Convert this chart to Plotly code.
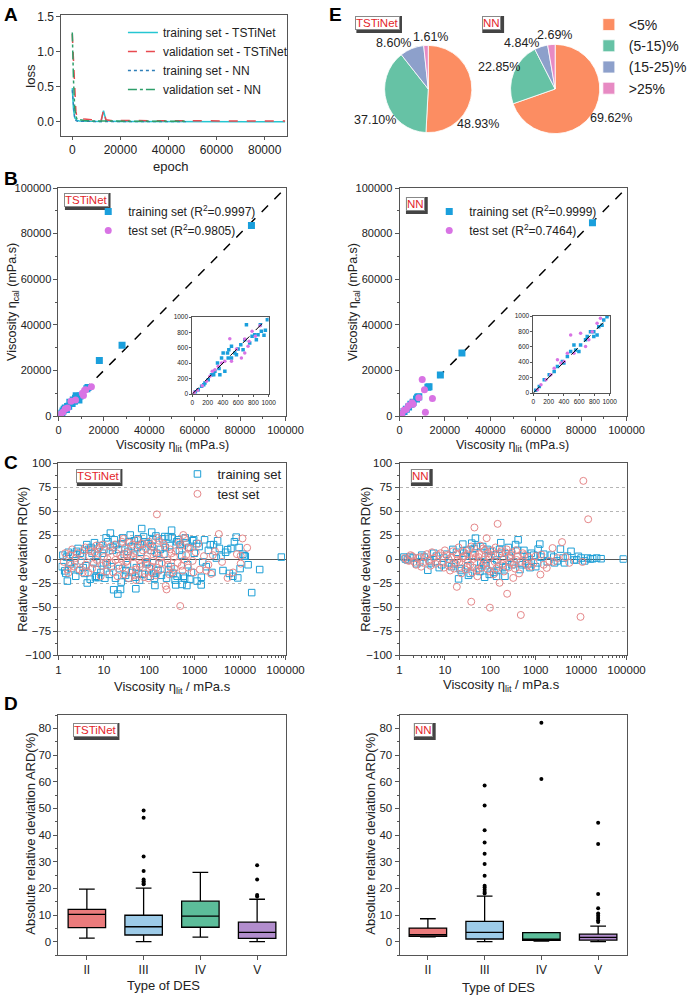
import plotly.graph_objects as go

# ---------------- DATA ----------------
# Panel A: loss curves
A_EPOCH_TST = [0, 200, 500, 1000, 1500, 2000, 3000, 5000, 8000, 12000, 13000, 14000, 16000, 20000, 25000, 30000, 34500, 40000, 50000, 57000, 60000, 70000, 80000, 88500]
A_TRAIN_TST = [0.48, 0.30, 0.18, 0.06, 0.03, 0.02, 0.015, 0.01, 0.008, 0.006, 0.16, 0.02, 0.008, 0.006, 0.005, 0.004, 0.004, 0.003, 0.003, 0.003, 0.003, 0.002, 0.002, 0.002]
A_VAL_TST = [1.25, 1.10, 0.80, 0.40, 0.15, 0.06, 0.05, 0.04, 0.03, 0.02, 0.17, 0.03, 0.02, 0.02, 0.015, 0.012, 0.02, 0.012, 0.012, 0.02, 0.012, 0.012, 0.012, 0.012]
A_EPOCH_NN = [0, 200, 500, 1000, 1500, 2000, 3000, 5000, 8000, 12000, 16000, 20000, 25000, 30000, 35000, 40000, 45000, 48000]
A_TRAIN_NN = [0.45, 0.35, 0.20, 0.05, 0.02, 0.01, 0.008, 0.006, 0.005, 0.004, 0.004, 0.003, 0.003, 0.003, 0.003, 0.003, 0.003, 0.003]
A_VAL_NN = [1.27, 0.95, 0.60, 0.20, 0.08, 0.04, 0.03, 0.02, 0.015, 0.012, 0.01, 0.01, 0.008, 0.008, 0.008, 0.008, 0.008, 0.008]
A_NAMES = ["training set - TSTiNet", "validation set - TSTiNet", "training set - NN", "validation set - NN"]

# Panel B: calculated vs literature viscosity (main)
B_TST_TRAIN_LIT = [85000, 28000, 18000, 13000, 12500, 9000, 8500, 8000, 7500, 7000, 6500, 6000, 5000, 4500, 4000, 3500, 3000, 2500, 2000, 1500, 1000, 500, 9500, 7800]
B_TST_TRAIN_CAL = [83500, 31000, 24300, 12500, 12000, 7000, 8500, 8200, 7800, 6500, 7000, 5500, 6000, 4300, 4200, 2800, 3500, 3000, 2200, 1300, 1100, 450, 8800, 8900]
B_TST_TEST_LIT = [14500, 11000, 11500, 10500, 5500, 4000, 3000, 2000, 1000, 500, 7500, 12000]
B_TST_TEST_CAL = [12800, 9000, 11300, 10000, 6500, 3500, 3200, 1800, 900, 600, 7000, 11500]
B_NN_TRAIN_LIT = [85000, 27500, 18000, 13000, 12500, 8500, 8000, 7500, 6000, 5000, 4000, 3000, 2000, 1000, 500]
B_NN_TRAIN_CAL = [84800, 27600, 18000, 12800, 12600, 8400, 8200, 7500, 6000, 5100, 4000, 3000, 2000, 1000, 500]
B_NN_TEST_LIT = [10000, 11000, 11400, 14500, 6000, 4000, 3000, 2000, 1000, 500, 8500, 5500]
B_NN_TEST_CAL = [16000, 11500, 1600, 7700, 5200, 4500, 3000, 2500, 900, 600, 8000, 5800]
B_TST_R2 = ["0.9997", "0.9805"]
B_NN_R2 = ["0.9999", "0.7464"]

# Panel B insets (0-1000 range)
BI_TST_TRAIN = [(709, 900), (891, 900), (957, 827), (983, 965), (939, 762), (817, 770), (783, 749), (687, 706), (635, 641),
                (600, 584), (513, 619), (478, 576), (461, 532), (404, 532), (383, 468), (513, 468), (557, 532), (330, 403),
                (296, 294), (252, 251), (209, 186), (165, 143), (122, 100), (78, 56), (361, 251), (426, 294), (470, 468),
                (578, 511), (665, 576), (752, 662), (839, 706), (904, 814), (861, 771), (40, 30), (150, 120), (280, 250), (350, 330)]
BI_TST_TEST = [(491, 719), (687, 714), (743, 684), (826, 749), (783, 814), (887, 887), (687, 532), (643, 468), (513, 424),
               (426, 424), (339, 359), (296, 316), (230, 229), (187, 165), (130, 108), (70, 48), (26, 22), (261, 294),
               (383, 403), (578, 584), (730, 619)]
BI_NN_TRAIN = [(965, 991), (922, 948), (857, 862), (835, 754), (792, 733), (749, 797), (684, 690), (619, 625), (554, 560),
               (489, 539), (446, 474), (381, 409), (316, 345), (273, 280), (208, 237), (143, 172), (78, 86), (532, 625),
               (597, 539), (706, 733), (792, 797), (30, 35), (400, 390), (900, 880)]
BI_NN_TEST = [(619, 776), (489, 754), (879, 970), (835, 905), (771, 797), (727, 690), (684, 603), (532, 517), (446, 517),
              (359, 388), (273, 323), (229, 237), (165, 172), (100, 108), (56, 43), (316, 431), (403, 409)]

# Panel C: relative deviation vs literature viscosity
C_TST_TRAIN = [(1.37, -12.4), (1.57, -23), (4.3, -25), (6.5, -19.3), (7.7, -19.3), (13.9, 27), (11.2, 22), (16.4, -32),
               (20.3, -36.5), (23.3, -31.7), (50.5, -31), (68, 31.7), (113, 28), (133, -27.6), (382, -27), (527, -26.5),
               (672, -27.6), (1130, -23), (1390, -27), (1650, 20), (2200, 14.8), (3500, 11), (5300, 9.7), (6300, 11),
               (8200, 22.8), (6900, -18), (8900, -19.7), (18000, -35), (27000, -11), (81000, 2), (12400, 3.4), (13000, 2.8),
               (3800, 2.8), (3000, 1), (220, 23.4), (430, 20), (310, 30), (260, 23),
               (1.2, -8), (1.5, 2), (1.8, -5), (2.1, 5), (2.5, 8), (2.9, -12), (3.3, 3), (3.8, -15), (4.6, 10), (5.2, 12),
               (5.9, -3), (6.8, -18), (8.1, 14), (9.3, 6), (10.5, -20), (12.2, 18), (14.5, -8), (17, 20), (19, 15),
               (22, -10), (26, 22), (30, -17), (34, 8), (38, 25), (42, -14), (47, 19), (55, 12), (61, -22), (75, 23),
               (84, -5), (95, 16), (105, -18), (120, 20), (140, 24), (155, -12), (175, 10), (195, 21), (240, -20),
               (280, 14), (340, -15), (400, 18), (460, 9), (560, -18), (620, 22), (740, 12), (850, -14), (980, 6),
               (1250, 13), (1800, -8), (2600, 15), (4200, -12), (4800, 7), (7500, 18), (10000, -10), (11500, 5),
               (15000, -6), (2.3, -2), (3.0, 6), (4.0, -7), (7.2, 4), (9.8, -4), (15.5, 9), (24, -24), (28, 5), (33, -6),
               (45, 4), (52, -9), (66, 7), (90, -3), (110, 9), (165, -5), (210, 5), (300, -8), (520, 4), (700, -6),
               (900, 19), (1500, -3), (2000, 9), (16, 12), (36, 18), (58, -15), (130, -20), (370, -22), (640, 17),
               (1.25, 4), (1.45, -15), (1.65, 7), (1.95, -10), (2.4, -18), (2.7, 11), (3.5, -9), (4.2, 15), (5.0, -21),
               (5.5, 6), (6.2, 17), (7.0, -11), (8.6, -14), (10, 10), (11.8, -6), (13.2, -16), (18, -20), (21, 10),
               (25, 16), (31, -12), (35, -20), (40, 13), (49, -19), (57, 21), (63, 15), (70, -16), (80, 18), (100, -10),
               (115, 13), (125, -15), (145, 6), (185, -17), (225, 12), (265, -11), (320, 22), (410, -18), (480, 15),
               (600, -20), (780, -21), (950, 20), (1100, 16), (1400, -19), (2400, -14), (3200, 19), (5800, -15), (9500, 12)]
C_TST_TEST = [(147, 46.5), (480, -49), (230, -28), (240, -31.7), (3400, 26), (11300, 21.4), (14300, 11.7), (10300, 3.4),
              (10300, -4.8), (5300, -19.7), (2300, -15.5), (560, 25), (600, 21.7), (1.57, -11), (1.65, -14.5),
              (1.3, -3), (1.8, 4), (2.2, -8), (2.6, 6), (3.1, -2), (3.6, 9), (4.1, -6), (4.8, 3), (5.5, -10), (6.3, 7),
              (7.0, -1), (8.0, 12), (9.0, -7), (10, 2), (11.5, -13), (13, 8), (15, -4), (17.5, 15), (20, -18), (23, 4),
              (26, -9), (29, 11), (33, -2), (37, 17), (41, -12), (46, 6), (51, -22), (57, 14), (64, -5), (72, 9),
              (80, -15), (89, 3), (99, 18), (110, -8), (124, 12), (140, -17), (160, 5), (180, -11), (205, 16), (260, -6),
              (290, 10), (330, -14), (380, 8), (420, -4), (500, 14), (540, -12), (650, 4), (720, -9), (800, 11),
              (900, -2), (1050, 7), (1300, -11), (1600, 3), (2000, -6), (2800, 8), (4000, -3), (7000, -14), (8500, 5),
              (12, 0), (18, -1), (24, 1), (31, -3), (44, 2), (60, -1), (85, 0), (120, -2), (170, 1), (250, -1), (350, 2),
              (600, -1), (27, 21), (48, -17), (95, -20), (150, 22), (2.0, 10), (3.4, -14), (6.8, 14),
              (1.4, 6), (1.9, -6), (2.4, 1), (2.9, -11), (3.9, 12), (4.5, -14), (5.2, 8), (6.0, -5), (7.5, 10),
              (8.5, -18), (9.5, 15), (11, -4), (14, 13), (16, -14), (19, 6), (21, -7), (25, 18), (28, -16), (32, 7),
              (35, -20), (39, 4), (43, 15), (50, -11), (55, 20), (62, -8), (68, 16), (76, -19), (84, 11), (92, -6),
              (105, 15), (115, -14), (130, 7), (145, -9), (165, 19), (190, -4), (220, 13), (275, -16), (310, 6),
              (360, -10), (440, 17), (520, -7), (700, 12), (950, -14), (1200, 16), (1800, -12), (2500, 4)]
C_NN_TRAIN = [(85000, 0), (27500, 0.3), (18000, 0.3), (14000, 1), (8700, 2.8), (6000, 8), (3500, 10.3), (1230, 15.5),
              (1130, 10.3), (47, 21.7), (24.8, 15.5), (39, 16.5), (410, 20), (20, -20.7), (137, -18), (210, -18),
              (4.2, -11.7), (2600, -4), (4300, -4), (1.25, 2), (1.5, -1), (2.0, 1), (2.8, -3), (3.5, 2), (5.0, -4),
              (6.5, 3), (8.5, -6), (11, 5), (14, -8), (18, 7), (23, -12), (30, 9), (36, -15), (44, 11), (55, -10),
              (68, 13), (80, -7), (100, 8), (120, -14), (160, 10), (190, -9), (250, 12), (300, -6), (360, 15), (450, -11),
              (550, 9), (700, -5), (800, 6), (1000, -8), (1500, 5), (1800, -3), (2200, 4), (3000, -2), (5000, 3),
              (7000, -1), (10000, 1), (12000, -2), (22000, 1), (16, -5), (28, 3), (62, -3), (90, 2), (140, -1), (280, 1),
              (600, -2), (900, 4), (33, -17), (75, -19), (170, 17), (95, -16),
              (1.35, 0), (1.7, 2), (2.4, -5), (3.1, 4), (4.6, -2), (5.7, 6), (7.5, -9), (9.5, 1), (12.5, -4), (15, 10),
              (21, -10), (26, 6), (32, -7), (41, 4), (50, 13), (59, -13), (72, -5), (86, 10), (110, -6), (130, 4),
              (150, -12), (180, 6), (220, -8), (260, 3), (330, -3), (400, 9), (500, -6), (650, 3), (750, -9), (1100, -4),
              (1300, 2), (2500, 2), (4000, 1), (8000, -1), (16000, 0)]
C_NN_TEST = [(11200, 81.4), (14300, 41.4), (44.7, 32.8), (145, 36.6), (83, 21.7), (3800, 17.6), (18.3, -29), (38, -44.5),
             (98, -50.7), (235, -36.2), (470, -58.3), (9700, -60.3), (160, -24.8), (320, -19.7), (1270, -16.2),
             (1750, -9.3), (2350, 11.4), (10700, -3.1), (1330, 4.5), (1.3, 1), (1.6, -2), (1.9, 3), (2.3, -6), (2.8, 2),
             (3.3, -4), (4.0, 5), (4.8, -7), (5.7, 1), (6.8, -3), (8.0, 6), (9.5, -9), (11, 4), (13, -12), (15, 8),
             (17.5, -5), (20, 12), (23, -15), (26, 3), (30, -8), (34, 10), (40, -14), (46, 6), (52, -18), (60, 14),
             (68, -6), (76, 9), (88, -11), (105, 4), (118, -16), (130, 12), (150, -7), (175, 8), (200, -13), (230, 10),
             (270, -4), (300, 7), (350, -10), (400, 3), (430, -15), (520, 6), (600, -5), (700, 2), (800, -8), (1000, 3),
             (2000, -2), (3000, 1), (5500, -4), (12, 0), (19, -1), (25, 1), (32, -2), (42, 0), (55, 2), (72, -1),
             (95, 1), (125, -3), (190, 0), (260, 2), (380, -1),
             (1.45, -1), (1.75, 4), (2.1, -3), (2.55, 1), (3.0, -8), (3.7, 2), (4.4, -2), (5.2, 7), (6.2, -5), (7.3, 4),
             (8.8, -4), (10, 9), (12, -7), (14, 2), (16, -10), (18, 5), (21, -3), (24, 8), (28, -11), (31, 5), (36, -6),
             (38, 13), (43, -9), (48, 2), (50, -12), (57, 5), (64, -9), (70, 11), (80, -4), (90, 6), (100, -13),
             (110, 9), (135, -10), (160, 5), (185, -5), (215, 7), (250, -9), (290, 4), (330, -6), (370, 9), (460, -3),
             (560, 4), (650, -7), (900, -4), (1500, -6), (2500, -3), (4500, 2)]

# Panel D: box statistics of ARD(%) per DES type
D_CATS = ["II", "III", "IV", "V"]
D_TST_LOW = [1.3, 0.0, 1.7, 0.0]
D_TST_Q1 = [5.3, 2.5, 5.4, 1.25]
D_TST_MED = [10.2, 5.6, 9.6, 3.5]
D_TST_Q3 = [12.1, 9.9, 15.2, 7.3]
D_TST_HIGH = [19.7, 20.1, 26.0, 15.9]
D_TST_OUT = [[], [49.2, 46.5, 31.9, 26.5, 23.3, 22.7, 22.0, 21.5], [], [28.7, 23.3, 17.5, 16.9]]
D_NN_LOW = [1.8, 0.0, 0.2, 0.0]
D_NN_Q1 = [2.0, 1.0, 0.5, 0.6]
D_NN_MED = [2.6, 3.5, 0.9, 1.6]
D_NN_Q3 = [5.1, 7.6, 3.4, 2.8]
D_NN_HIGH = [8.6, 17.1, 3.4, 5.8]
D_NN_OUT = [[], [58.6, 51.1, 41.8, 37.2, 33.0, 29.1, 24.7, 21.0, 20.3, 19.5, 18.6, 18.1], [82.1, 61.0],
            [44.6, 36.6, 17.9, 12.5, 10.6, 9.7, 8.9, 8.0, 7.4]]

# Panel E: pie shares
PIE_LABELS = ["<5%", "(5-15)%", "(15-25)%", ">25%"]
PIE_TST = [48.93, 37.10, 8.60, 1.61]
PIE_NN = [69.62, 22.85, 4.84, 2.69]

# ---------------- STYLE ----------------
W, H = 692, 999
FONT = "Liberation Sans, Arial, sans-serif"
AXC = "#555555"
TXT = "#222222"
TAG_RED = "#e3262b"
B_BLUE = "#1a9fdc"
B_MAG = "#d873e4"
C_BLUE = "#1e9fd6"
C_RED = "#e58789"
PIE_COLORS = ["#fc8d62", "#66c2a5", "#8da0cb", "#e78ac3"]
BOX_COLORS = ["#eb7b7c", "#9dcbe8", "#5cbd9a", "#b28dcd"]


def X(p):
    return p / W


def Y(p):
    return 1 - p / H


def dom_x(a, b):
    return [X(a), X(b)]


def dom_y(top, bottom):
    return [Y(bottom), Y(top)]


def ax(**kw):
    base = dict(showline=True, mirror=True, linecolor=AXC, linewidth=1, ticks="outside", ticklen=4,
                tickwidth=1, tickcolor=AXC, showgrid=False, zeroline=False, automargin=False,
                tickfont=dict(size=11, color=TXT, family=FONT))
    base.update(kw)
    return base


def unzip(pairs):
    return [p[0] for p in pairs], [p[1] for p in pairs]


fig = go.Figure()

# ---- A ----
a_styles = [dict(color="#25c6d2", width=1.5, dash="solid"), dict(color="#e84a4f", width=1.5, dash="dash"),
            dict(color="#2f7fb8", width=1.3, dash="dot"), dict(color="#2e9e6a", width=1.5, dash="dashdot")]
a_series = [(A_EPOCH_TST, A_TRAIN_TST), (A_EPOCH_TST, A_VAL_TST), (A_EPOCH_NN, A_TRAIN_NN), (A_EPOCH_NN, A_VAL_NN)]
for (ex, ey), nm, st in zip(a_series, A_NAMES, a_styles):
    fig.add_trace(go.Scatter(x=ex, y=ey, mode="lines", line=st, name=nm, xaxis="x", yaxis="y", legend="legend"))

# ---- B ----
B_MAX = 100000
BI_MAX = 1000
for xa, ya, xi, yi, lit_tr, cal_tr, lit_te, cal_te, r2, inset_tr, inset_te, lg in [
    ("x2", "y2", "x3", "y3", B_TST_TRAIN_LIT, B_TST_TRAIN_CAL, B_TST_TEST_LIT, B_TST_TEST_CAL, B_TST_R2, BI_TST_TRAIN, BI_TST_TEST, "legend2"),
    ("x4", "y4", "x5", "y5", B_NN_TRAIN_LIT, B_NN_TRAIN_CAL, B_NN_TEST_LIT, B_NN_TEST_CAL, B_NN_R2, BI_NN_TRAIN, BI_NN_TEST, "legend3"),
]:
    fig.add_trace(go.Scatter(x=[0, B_MAX], y=[0, B_MAX], mode="lines", line=dict(color="black", width=1.5, dash="dash"),
                             showlegend=False, xaxis=xa, yaxis=ya))
    fig.add_trace(go.Scatter(x=lit_tr, y=cal_tr, mode="markers", marker=dict(symbol="square", size=7, color=B_BLUE),
                             name=f"training set (R<sup>2</sup>={r2[0]})", xaxis=xa, yaxis=ya, legend=lg))
    fig.add_trace(go.Scatter(x=lit_te, y=cal_te, mode="markers", marker=dict(symbol="circle", size=7, color=B_MAG),
                             name=f"test set (R<sup>2</sup>={r2[1]})", xaxis=xa, yaxis=ya, legend=lg))
    ix, iy = unzip(inset_tr)
    jx, jy = unzip(inset_te)
    fig.add_trace(go.Scatter(x=ix, y=iy, mode="markers", marker=dict(symbol="square", size=3.5, color=B_BLUE),
                             showlegend=False, xaxis=xi, yaxis=yi))
    fig.add_trace(go.Scatter(x=jx, y=jy, mode="markers", marker=dict(symbol="circle", size=3.5, color=B_MAG),
                             showlegend=False, xaxis=xi, yaxis=yi))
    fig.add_trace(go.Scatter(x=[0, BI_MAX], y=[0, BI_MAX], mode="lines", line=dict(color="black", width=1, dash="dash"),
                             showlegend=False, xaxis=xi, yaxis=yi))

# ---- C ----
for xa, ya, tr, te, show in [("x6", "y6", C_TST_TRAIN, C_TST_TEST, True), ("x7", "y7", C_NN_TRAIN, C_NN_TEST, False)]:
    tx, ty = unzip(tr)
    ex, ey = unzip(te)
    fig.add_trace(go.Scatter(x=tx, y=ty, mode="markers", name="training set",
                             marker=dict(symbol="square-open", size=6.5, color=C_BLUE, line=dict(width=1)),
                             showlegend=show, xaxis=xa, yaxis=ya, legend="legend4"))
    fig.add_trace(go.Scatter(x=ex, y=ey, mode="markers", name="test set",
                             marker=dict(symbol="circle-open", size=7, color=C_RED, line=dict(width=1)),
                             showlegend=show, xaxis=xa, yaxis=ya, legend="legend4"))

# ---- D ----
for xa, ya, lo, q1, med, q3, hi, outs in [
    ("x8", "y8", D_TST_LOW, D_TST_Q1, D_TST_MED, D_TST_Q3, D_TST_HIGH, D_TST_OUT),
    ("x9", "y9", D_NN_LOW, D_NN_Q1, D_NN_MED, D_NN_Q3, D_NN_HIGH, D_NN_OUT),
]:
    for i in range(len(D_CATS)):
        fig.add_trace(go.Box(x=[i], q1=[q1[i]], median=[med[i]], q3=[q3[i]], lowerfence=[lo[i]], upperfence=[hi[i]],
                             fillcolor=BOX_COLORS[i], line=dict(color="black", width=1.3), width=0.66,
                             whiskerwidth=0.42, boxpoints=False, showlegend=False, xaxis=xa, yaxis=ya))
        if outs[i]:
            fig.add_trace(go.Scatter(x=[i] * len(outs[i]), y=outs[i], mode="markers",
                                     marker=dict(color="black", size=4), showlegend=False, xaxis=xa, yaxis=ya))

# ---- E ----
for vals, dx, dy in [(PIE_TST, dom_x(388, 476), dom_y(45, 133)), (PIE_NN, dom_x(515, 605), dom_y(44, 134))]:
    fig.add_trace(go.Pie(values=vals, labels=PIE_LABELS, sort=False, direction="clockwise", rotation=0,
                         marker=dict(colors=PIE_COLORS, line=dict(color="white", width=0.8)), textinfo="none",
                         domain=dict(x=dx, y=dy), legend="legend5", hoverinfo="label+value"))

# ---------------- LAYOUT ----------------
tick20k = [0, 20000, 40000, 60000, 80000, 100000]
c_y = dict(range=[-100, 100], tickvals=[-100, -75, -50, -25, 0, 25, 50, 75, 100], showgrid=True,
           gridcolor="#b5b5b5", griddash="dot", gridwidth=1, zeroline=True, zerolinecolor="#555555",
           zerolinewidth=1.2, minor=dict(ticks="outside", ticklen=2, dtick=12.5, tickcolor=AXC),
           tickfont=dict(size=11.5, color=TXT, family=FONT))
c_x = dict(type="log", range=[0, 5], tickvals=[1, 10, 100, 1000, 10000, 100000],
           ticktext=["1", "10", "100", "1000", "10000", "100000"],
           minor=dict(ticks="outside", ticklen=2, tickcolor=AXC, dtick="D1"),
           tickfont=dict(size=11.5, color=TXT, family=FONT))
d_y = dict(range=[-5, 85], tickvals=[0, 10, 20, 30, 40, 50, 60, 70, 80],
           minor=dict(ticks="outside", ticklen=2, dtick=5, tickcolor=AXC), tickfont=dict(size=11.5, color=TXT, family=FONT))
d_x = dict(range=[-0.5, 3.5], tickvals=list(range(len(D_CATS))), ticktext=D_CATS,
           tickfont=dict(size=12, color=TXT, family=FONT))
b_ax = dict(range=[0, B_MAX], tickvals=tick20k, tickformat="d",
            minor=dict(ticks="outside", ticklen=2, dtick=10000, tickcolor=AXC))
bi_ax = dict(range=[0, BI_MAX], tickvals=[0, 200, 400, 600, 800, 1000], ticklen=2, tickformat="d",
             tickfont=dict(size=6.5, color=TXT, family=FONT), linewidth=0.8)

fig.update_layout(
    width=W, height=H, margin=dict(l=0, r=0, t=0, b=0), template="none",
    paper_bgcolor="white", plot_bgcolor="white", font=dict(family=FONT, color=TXT, size=12),
    xaxis=ax(domain=dom_x(62, 290), anchor="y", range=[-4500, 89500], tickvals=[0, 20000, 40000, 60000, 80000],
             tickformat="d", ticklen=3, tickfont=dict(size=12, color=TXT, family=FONT)),
    yaxis=ax(domain=dom_y(15, 136), anchor="x", range=[-0.2, 1.52], tickvals=[0, 0.5, 1.0, 1.5], tickformat=".1f",
             tickfont=dict(size=12, color=TXT, family=FONT)),
    xaxis2=ax(domain=dom_x(59, 288), anchor="y2", **b_ax),
    yaxis2=ax(domain=dom_y(188, 416), anchor="x2", **b_ax),
    xaxis3=ax(domain=dom_x(194, 271), anchor="y3", **bi_ax),
    yaxis3=ax(domain=dom_y(317, 394), anchor="x3", **bi_ax),
    xaxis4=ax(domain=dom_x(403, 632), anchor="y4", **b_ax),
    yaxis4=ax(domain=dom_y(188, 416), anchor="x4", **b_ax),
    xaxis5=ax(domain=dom_x(538, 615), anchor="y5", **bi_ax),
    yaxis5=ax(domain=dom_y(316, 393), anchor="x5", **bi_ax),
    xaxis6=ax(domain=dom_x(59, 288), anchor="y6", **c_x),
    yaxis6=ax(domain=dom_y(463, 655), anchor="x6", **c_y),
    xaxis7=ax(domain=dom_x(403, 632), anchor="y7", **c_x),
    yaxis7=ax(domain=dom_y(463, 655), anchor="x7", **c_y),
    xaxis8=ax(domain=dom_x(59, 288), anchor="y8", **d_x),
    yaxis8=ax(domain=dom_y(715, 955), anchor="x8", **d_y),
    xaxis9=ax(domain=dom_x(403, 632), anchor="y9", **d_x),
    yaxis9=ax(domain=dom_y(715, 955), anchor="x9", **d_y),
    boxmode="overlay",
    legend=dict(x=X(124), y=Y(18), xanchor="left", yanchor="top", bgcolor="rgba(0,0,0,0)",
                font=dict(size=12, color=TXT, family=FONT), tracegroupgap=0, itemwidth=30),
    legend2=dict(x=X(89), y=Y(197), xanchor="left", yanchor="top", bgcolor="rgba(0,0,0,0)",
                 font=dict(size=12, color=TXT, family=FONT)),
    legend3=dict(x=X(433), y=Y(197), xanchor="left", yanchor="top", bgcolor="rgba(0,0,0,0)",
                 font=dict(size=12, color=TXT, family=FONT)),
    legend4=dict(x=X(179), y=Y(459), xanchor="left", yanchor="top", bgcolor="rgba(0,0,0,0)",
                 font=dict(size=13, color=TXT, family=FONT)),
    legend5=dict(x=X(594), y=Y(9), xanchor="left", yanchor="top", bgcolor="rgba(0,0,0,0)",
                 font=dict(size=14, color=TXT, family=FONT)),
)

annotations = []
shapes = []


def ann(text, x, y, size=12.5, color=TXT, bold=False, angle=0, **kw):
    t = f"<b>{text}</b>" if bold else text
    d = dict(text=t, x=X(x), y=Y(y), xref="paper", yref="paper", showarrow=False, textangle=angle,
             xanchor="center", yanchor="middle", font=dict(size=size, color=color, family=FONT))
    d.update(kw)
    annotations.append(d)


TAG_W = {"TSTiNet": 46, "NN": 22}
TAG_H = 17


def tag(text, x, y):
    w = TAG_W[text]
    shapes.append(dict(type="rect", xref="paper", yref="paper", x0=X(x - w / 2 + 1.5), x1=X(x + w / 2 + 1.5),
                       y0=Y(y + TAG_H / 2 + 1.5), y1=Y(y - TAG_H / 2 + 1.5), fillcolor="#444444",
                       line=dict(width=0), layer="above"))
    ann(text, x, y, size=11.5, color=TAG_RED, bgcolor="white", bordercolor="#888888", borderwidth=1, borderpad=0)


# panel letters
for letter, lx, ly in [("A", 11, 14), ("B", 11, 179), ("C", 11, 462), ("D", 11, 703), ("E", 338, 14)]:
    ann(letter, lx, ly, size=19, color="black", bold=True)

# axis titles
ann("loss", 30, 76, size=13, angle=-90)
ann("epoch", 172, 166, size=13)
ann("Viscosity η<sub>cal</sub> (mPa.s)", 13, 302, size=12.5, angle=-90)
ann("Viscosity η<sub>cal</sub> (mPa.s)", 357, 302, size=12.5, angle=-90)
ann("Viscosity η<sub>lit</sub> (mPa.s)", 174, 446, size=12.5)
ann("Viscosity η<sub>lit</sub> (mPa.s)", 517, 446, size=12.5)
ann("Relative deviation RD(%)", 22, 559, size=13, angle=-90)
ann("Relative deviation RD(%)", 368, 559, size=13, angle=-90)
ann("Viscosity η<sub>lit</sub> / mPa.s", 174, 687, size=13)
ann("Viscosity η<sub>lit</sub> / mPa.s", 506, 685, size=13)
ann("Absolute relative deviation ARD(%)", 30, 834, size=13, angle=-90)
ann("Absolute relative deviation ARD(%)", 373, 834, size=13, angle=-90)
ann("Type of DES", 165, 985, size=13)
ann("Type of DES", 503, 987, size=13)

# model tags
for t, tx, ty in [("TSTiNet", 87, 200), ("NN", 419, 204), ("TSTiNet", 99, 476), ("NN", 424, 476),
                  ("TSTiNet", 96, 730), ("NN", 427, 730), ("TSTiNet", 381, 23), ("NN", 496, 23)]:
    tag(t, tx, ty)

# pie labels
PIE_TST_POS = [(482, 124), (378, 120), (397, 43), (434, 37)]
PIE_NN_POS = [(616, 118), (503, 67), (526, 43), (559, 35)]
for vals, poss in [(PIE_TST, PIE_TST_POS), (PIE_NN, PIE_NN_POS)]:
    for v, (lx, ly) in zip(vals, poss):
        ann(f"{v:.2f}%", lx, ly, size=12.5)

fig.update_layout(annotations=annotations, shapes=shapes)
fig.write_html("out.html", config={"displayModeBar": False},
               post_script="document.body.style.margin='0';document.body.style.padding='0';")
